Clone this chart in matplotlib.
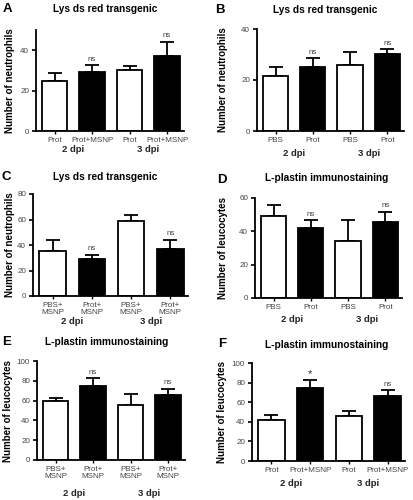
import matplotlib.pyplot as plt

plt.rcParams["font.family"] = ["Liberation Sans", "DejaVu Sans"]

# data
a_cats = ["Prot", "Prot+MSNP", "Prot", "Prot+MSNP"]
a_means = [25, 29, 30, 37]
a_errs = [3.5, 3.5, 2, 7]
a_marks = ["", "ns", "", "ns"]

b_cats = ["PBS", "Prot", "PBS", "Prot"]
b_means = [21.5, 25, 26, 30]
b_errs = [3.5, 3.5, 5, 2]
b_marks = ["", "ns", "", "ns"]

c_cats = ["PBS+\nMSNP", "Prot+\nMSNP", "PBS+\nMSNP", "Prot+\nMSNP"]
c_means = [35, 29, 59, 37]
c_errs = [9, 3.5, 4.5, 7]
c_marks = ["", "ns", "", "ns"]

d_cats = ["PBS", "Prot", "PBS", "Prot"]
d_means = [49, 42, 34, 45.5]
d_errs = [7, 4.5, 13, 6]
d_marks = ["", "ns", "", "ns"]

e_cats = ["PBS+\nMSNP", "Prot+\nMSNP", "PBS+\nMSNP", "Prot+\nMSNP"]
e_means = [60, 74.5, 56, 65.5]
e_errs = [2.5, 8, 10.5, 6.5]
e_marks = ["", "ns", "", "ns"]

f_cats = ["Prot", "Prot+MSNP", "Prot", "Prot+MSNP"]
f_means = [42, 75, 46, 66]
f_errs = [4.5, 7.5, 5.5, 6]
f_marks = ["", "*", "", "ns"]

groups = ["2 dpi", "3 dpi"]
fills = ["white", "black", "white", "black"]

W, H = 413, 500


def px_axes(fig, x0, y0, x1, y1):
    return fig.add_axes([x0 / W, 1 - y1 / H, (x1 - x0) / W, (y1 - y0) / H])


def ftext(fig, x, y, s, **kw):
    # place text in reference pixel coordinates (origin top-left)
    fig.text(x / W, 1 - y / H, s, **kw)


def draw_panel(fig, box, letter, title, ylabel, cats, means, errs, marks,
               ymax, ystep, letter_xy, title_xy, ylabel_x, group_y):
    x0, y0, x1, y1 = box
    ax = px_axes(fig, *box)
    xs = list(range(len(means)))
    ax.bar(xs, means, width=0.68, color=fills, edgecolor="black",
           linewidth=1.3, zorder=2)
    ax.errorbar(xs, means, yerr=[[0] * len(errs), errs], fmt="none",
                ecolor="black", elinewidth=1.3, capsize=4.7, capthick=1.3,
                zorder=1)
    for x, m, e, s in zip(xs, means, errs, marks):
        if s == "*":
            ax.annotate(s, (x, m + e), xytext=(0, 0.5),
                        textcoords="offset points", ha="center",
                        va="bottom", fontsize=8, color="#333333")
        elif s:
            ax.annotate(s, (x, m + e), xytext=(0, 2),
                        textcoords="offset points", ha="center",
                        va="bottom", fontsize=5.8, color="#444444")
    ax.set_xlim(-0.5, 3.45)
    ax.set_ylim(0, ymax)
    ax.set_yticks(range(0, ymax + 1, ystep))
    ax.set_xticks(xs)
    ax.set_xticklabels(cats, fontsize=5.8, color="#444444", linespacing=1.0)
    ax.tick_params(axis="x", length=2.5, width=1.0, pad=2)
    ax.tick_params(axis="y", labelsize=5.8, labelcolor="#444444",
                   length=3, width=1.2, pad=2)
    for side in ["top", "right"]:
        ax.spines[side].set_visible(False)
    for side in ["left", "bottom"]:
        ax.spines[side].set_linewidth(1.3)

    ftext(fig, ylabel_x, (y0 + y1) / 2, ylabel, rotation=90, ha="center",
          va="center", fontsize=7, fontweight="bold")
    ftext(fig, title_xy[0], title_xy[1], title, ha="center", va="center",
          fontsize=7.3, fontweight="bold")
    ftext(fig, letter_xy[0], letter_xy[1], letter, ha="left", va="center",
          fontsize=9.5, fontweight="bold")
    scale = (x1 - x0) / 3.95
    for gx, g in zip([0.5, 2.5], groups):
        px = x0 + (gx + 0.5) * scale
        ftext(fig, px, group_y, g, ha="center", va="center",
              fontsize=6.8, fontweight="bold", color="#222222")
    return ax


fig = plt.figure(figsize=(W / 100, H / 100), dpi=100, facecolor="white")

draw_panel(fig, (36, 30, 184, 131), "A", "Lys ds red transgenic",
           "Number of neutrophils", a_cats, a_means, a_errs, a_marks,
           50, 20, (3, 9), (105, 9), 10, 150)

draw_panel(fig, (257, 29, 404, 131), "B", "Lys ds red transgenic",
           "Number of neutrophils", b_cats, b_means, b_errs, b_marks,
           40, 20, (215, 10), (325, 10), 223, 153)

draw_panel(fig, (33, 194, 188, 296), "C", "Lys ds red transgenic",
           "Number of neutrophils", c_cats, c_means, c_errs, c_marks,
           80, 20, (2, 177), (105, 177), 10, 322)

draw_panel(fig, (255, 198, 402, 298), "D", "L-plastin immunostaining",
           "Number of leucocytes", d_cats, d_means, d_errs, d_marks,
           60, 20, (217, 180), (327, 178), 223, 319)

draw_panel(fig, (37, 361, 185, 460), "E", "L-plastin immunostaining",
           "Number of leucocytes", e_cats, e_means, e_errs, e_marks,
           100, 20, (2, 342), (107, 342), 8, 493)

draw_panel(fig, (252, 363, 405, 461), "F", "L-plastin immunostaining",
           "Number of leucocytes", f_cats, f_means, f_errs, f_marks,
           100, 20, (218, 344), (327, 345), 222, 484)

fig.savefig("out.png", dpi=100, facecolor="white")
